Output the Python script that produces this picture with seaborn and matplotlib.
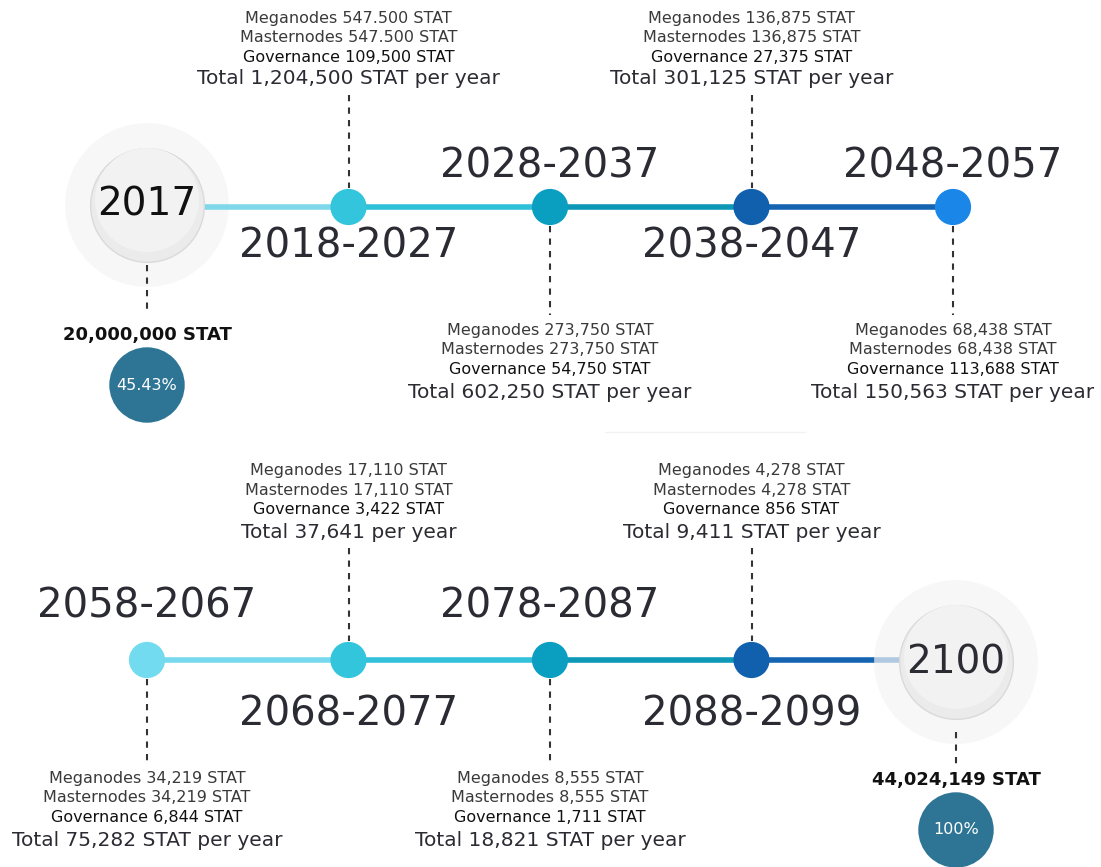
import numpy as np
import pandas as pd
import matplotlib.pyplot as plt
import seaborn as sns

# ---- data -------------------------------------------------------------
periods = ['2018-2027', '2028-2037', '2038-2047', '2048-2057',
           '2058-2067', '2068-2077', '2078-2087', '2088-2099']
meganodes = ['547.500', '273,750', '136,875', '68,438',
             '34,219', '17,110', '8,555', '4,278']
masternodes = ['547.500', '273,750', '136,875', '68,438',
               '34,219', '17,110', '8,555', '4,278']
governance = ['109,500', '54,750', '27,375', '113,688',
              '6,844', '3,422', '1,711', '856']
totals = ['1,204,500', '602,250', '301,125', '150,563',
          '75,282', '37,641', '18,821', '9,411']
total_units = ['STAT ', 'STAT ', 'STAT ', 'STAT ',
               'STAT ', '', 'STAT ', 'STAT ']
node_colors = ['#33c5dc', '#0a9ec0', '#1060ae', '#1a86e8',
               '#72dbef', '#33c5dc', '#0a9ec0', '#1060ae']
segment_colors = ['#7fd8ea', '#2fc0da', '#0c98b6', '#1464b2',
                  '#78d9ee', '#33c0da', '#0c98b6', '#1464b2']

start_year, start_supply, start_pct = '2017', '20,000,000 STAT', '45.43%'
end_year, end_supply, end_pct = '2100', '44,024,149 STAT', '100%'

# ---- layout (pixel space) --------------------------------------------
W, H = 1101, 867
row_y = [207, 660]
slot_x0, slot_dx = 147, 201.5
text_col = '#2b2b33'
grey_txt = '#3a3a3a'

df = pd.DataFrame({'period': periods, 'color': node_colors})
df['row'] = np.arange(8) // 4
df['slot'] = np.where(df['row'] == 0, np.arange(8) % 4 + 1, np.arange(8) % 4)
df['x'] = slot_x0 + slot_dx * df['slot']
df['y'] = [row_y[r] for r in df['row']]
# info block above the line on odd slots, below on even slots
df['above'] = df['slot'] % 2 == 1

# segments between consecutive points on each row
seg_rows = []
for r in range(2):
    xs = [slot_x0 + slot_dx * s for s in range(5)]
    if r == 0:
        xs[0] = slot_x0 + 56
    else:
        xs[4] = 900
    for k in range(4):
        sid = r * 4 + k
        seg_rows.append({'seg': sid, 'x': xs[k], 'y': row_y[r]})
        seg_rows.append({'seg': sid, 'x': xs[k + 1], 'y': row_y[r]})
seg_df = pd.DataFrame(seg_rows)

fig = plt.figure(figsize=(W / 100, H / 100), dpi=100)
ax = fig.add_axes([0, 0, 1, 1])
sns.set_style('white')
plt.rcParams['font.family'] = ['DejaVu Sans']

sns.lineplot(data=seg_df, x='x', y='y', hue='seg', palette=segment_colors,
             linewidth=4, legend=False, sort=False, estimator=None, ax=ax,
             zorder=1)

# big end circles (halo + disc); the end halo sits over the line, start halo under
ends = pd.DataFrame({'x': [slot_x0, slot_x0 + slot_dx * 4 + 3],
                     'y': [row_y[0] - 2, row_y[1] + 2]})
for k, hz in enumerate([0.5, 2]):
    ax.scatter(ends['x'][k], ends['y'][k], s=13900, color='#f4f4f4',
               alpha=0.7, edgecolor='none', zorder=hz)
ax.scatter(ends['x'], ends['y'], s=6700, color='#ebebeb',
           edgecolor='#dadada', linewidth=1, zorder=3)
ax.scatter(ends['x'], ends['y'] - 5, s=5600, color='#f2f2f2',
           edgecolor='none', zorder=3)

# nodes
sns.scatterplot(data=df, x='x', y='y', hue='period',
                palette=dict(zip(periods, node_colors)), s=680,
                edgecolor='none', legend=False, ax=ax, zorder=4)

label_off = {0: (-40, 39), 1: (-53, 54)}
for i, rr in df.iterrows():
    x, y = rr['x'], rr['y']
    up_off, dn_off = label_off[rr['row']]
    if rr['above']:
        lines_y = [y - 189, y - 169.5, y - 150, y - 128]
        dash = (y - 112, y - 19)
        lab_y = y + dn_off
    else:
        base = y + 123 if rr['row'] == 0 else y + 118
        lines_y = [base, base + 20, base + 40, base + 62]
        dash = (y + 19, base - 15)
        lab_y = y + up_off
    ax.plot([x, x], dash, ls=(0, (3, 3)), color='#333333', lw=1.5, zorder=0)
    ax.text(x, lab_y, rr['period'], ha='center', va='center',
            fontsize=29, color=text_col)
    ax.text(x, lines_y[0], f'Meganodes {meganodes[i]} STAT', ha='center',
            va='center', fontsize=11.5, color=grey_txt)
    ax.text(x, lines_y[1], f'Masternodes {masternodes[i]} STAT', ha='center',
            va='center', fontsize=11.5, color=grey_txt)
    ax.text(x, lines_y[2], f'Governance {governance[i]} STAT', ha='center',
            va='center', fontsize=11.5, color='#111111')
    ax.text(x, lines_y[3], f'Total {totals[i]} {total_units[i]}per year',
            ha='center', va='center', fontsize=14.5, color=text_col)

# start / end info
for (x, y), yr, sup, pct, dash, sup_y, pct_y in [
        ((ends['x'][0], ends['y'][0]), start_year, start_supply, start_pct,
         (265, 312), 335, 385),
        ((ends['x'][1], ends['y'][1]), end_year, end_supply, end_pct,
         (732, 766), 780, 830)]:
    ax.text(x, y, yr, ha='center', va='center', fontsize=28,
            color='#111111' if yr == start_year else text_col, zorder=5)
    ax.plot([x, x], dash, ls=(0, (3, 3)), color='#333333', lw=1.5, zorder=5)
    ax.text(x, sup_y, sup, ha='center', va='center', fontsize=13,
            fontweight='semibold', color='#111111')
    ax.scatter([x], [pct_y], s=2950, color='#2e7595', edgecolor='none',
               zorder=4)
    ax.text(x, pct_y, pct, ha='center', va='center', fontsize=11.5,
            color='white', zorder=5)

# faint separator between the two rows
ax.plot([605, 805], [432, 432], color='#f2f2f2', lw=1, zorder=0)

ax.set_xlim(0, W)
ax.set_ylim(H, 0)
ax.set_axis_off()
fig.savefig('out.png', dpi=100, facecolor='white')
